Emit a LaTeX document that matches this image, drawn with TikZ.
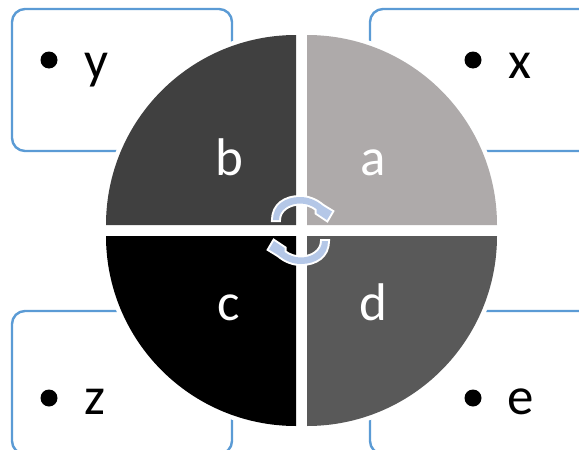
\documentclass[tikz,border=0pt]{standalone}
\usepackage{fontspec}
\setmainfont{Carlito}
\definecolor{boxline}{HTML}{5B9BD5}
\definecolor{arrowfill}{HTML}{B4C7E7}
\definecolor{qa}{HTML}{AEAAAA}
\definecolor{qb}{HTML}{404040}
\definecolor{qd}{HTML}{595959}
\tikzset{
  itembox/.style={draw=boxline,line width=2.4pt,fill=white,rounded corners=13pt},
  quarter/.style={preaction={draw=white,line width=9pt},line join=miter},
  seglabel/.style={text=white,font=\fontsize{53}{53}\selectfont,anchor=base,inner sep=0pt},
  itemlabel/.style={text=black,font=\fontsize{53}{53}\selectfont,anchor=base,inner sep=0pt},
  dotmark/.style={fill=black,circle,inner sep=0pt,minimum size=17pt},
  turn/.style={preaction={draw=white,line width=4pt,line join=miter,miter limit=4},fill=arrowfill}
}
\begin{document}
\begin{tikzpicture}[x=1pt,y=-1pt]
\useasboundingbox (0,0) rectangle (579,450);
\clip (0,0) rectangle (579,450);
\fill[white] (0,0) rectangle (579,450);
% boxes
\draw[itembox] (12,9) rectangle (232,151);
\draw[itembox] (370,9) rectangle (610,151);
\draw[itembox] (12,311) rectangle (232,454);
\draw[itembox] (370,311) rectangle (610,454);
% quarters
\fill[quarter,fill=qa] (307,225) -- (307,35) arc[start angle=-90,end angle=0,radius=190] -- cycle;
\fill[quarter,fill=qb] (296,225) -- (106,225) arc[start angle=180,end angle=270,radius=190] -- cycle;
\fill[quarter,fill=black] (296,236) -- (296,426) arc[start angle=90,end angle=180,radius=190] -- cycle;
\fill[quarter,fill=qd] (307,236) -- (497,236) arc[start angle=0,end angle=90,radius=190] -- cycle;
% labels
\node[seglabel] (lb) at (229.5,175) {b};
\node[seglabel] (la) at (373,175) {a};
\node[seglabel] (lc) at (229,320) {c};
\node[seglabel] (ld) at (373,320) {d};
\node[dotmark] (d1) at (49,60) {};
\node[dotmark] (d2) at (473,60) {};
\node[dotmark] (d3) at (49,398) {};
\node[dotmark] (d4) at (473,398) {};
\node[itemlabel] (ty) at (96.5,78) {y};
\node[itemlabel] (tx) at (520,78) {x};
\node[itemlabel] (tz) at (95,414) {z};
\node[itemlabel] (te) at (521,414) {e};
% turning arrows
\fill[turn] (273,220) .. controls (273,205) and (285,197) .. (300,197)
  .. controls (308,197) and (316,200) .. (323,206) -- (332,211.5) -- (327,220) -- (316.5,213) -- (316.5,209)
  .. controls (312,205.5) and (306,203.5) .. (300,203.5)
  .. controls (289,203.5) and (279,210) .. (279,220) -- cycle;
\begin{scope}[shift={(601,461)},x=-1pt,y=1pt]
\fill[turn] (273,220) .. controls (273,205) and (285,197) .. (300,197)
  .. controls (308,197) and (316,200) .. (323,206) -- (332,211.5) -- (327,220) -- (316.5,213) -- (316.5,209)
  .. controls (312,205.5) and (306,203.5) .. (300,203.5)
  .. controls (289,203.5) and (279,210) .. (279,220) -- cycle;
\end{scope}
\end{tikzpicture}
\end{document}
